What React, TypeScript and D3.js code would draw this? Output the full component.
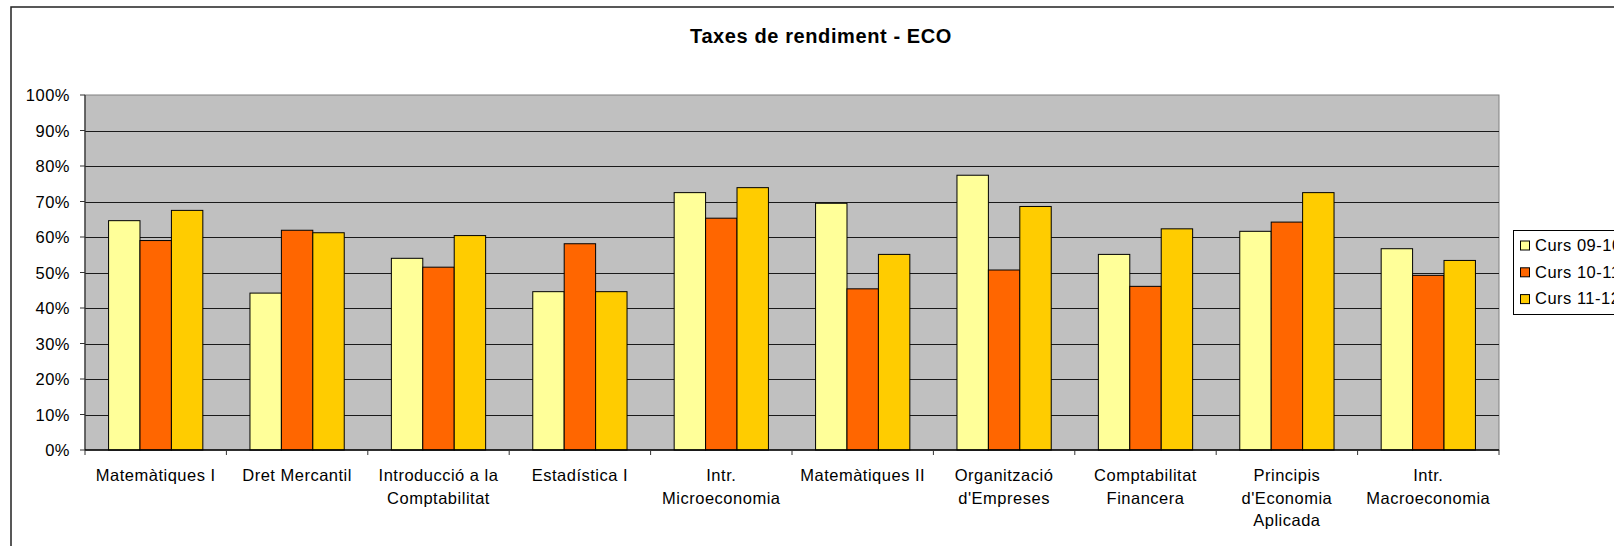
import React from "react";
import * as d3 from "d3";

const categories = [
  "Matemàtiques I",
  "Dret Mercantil",
  "Introducció a la\nComptabilitat",
  "Estadística I",
  "Intr.\nMicroeconomia",
  "Matemàtiques II",
  "Organització\nd'Empreses",
  "Comptabilitat\nFinancera",
  "Principis\nd'Economia\nAplicada",
  "Intr.\nMacroeconomia",
];

const seriesNames = ["Curs 09-10", "Curs 10-11", "Curs 11-12"];
const seriesColors = ["#FFFF99", "#FF6600", "#FFCC00"];

const curs0910 = [0.646, 0.442, 0.54, 0.446, 0.725, 0.695, 0.774, 0.551, 0.616, 0.567];
const curs1011 = [0.59, 0.619, 0.515, 0.581, 0.653, 0.454, 0.507, 0.461, 0.642, 0.492];
const curs1112 = [0.675, 0.612, 0.604, 0.446, 0.739, 0.551, 0.686, 0.623, 0.725, 0.534];
const seriesValues = [curs0910, curs1011, curs1112];

const yTicks = [0, 0.1, 0.2, 0.3, 0.4, 0.5, 0.6, 0.7, 0.8, 0.9, 1.0];
const title = "Taxes de rendiment - ECO";

const W = 1614;
const H = 546;
const left = 85;
const right = 1499;
const top = 95;
const bottom = 450;
const font = "'Liberation Sans', Arial, sans-serif";
const fs = 16.5;

export default function App() {
  const x = d3.scaleBand<string>().domain(categories).range([left, right]).paddingInner(0).paddingOuter(0);
  const xs = d3
    .scaleBand<string>()
    .domain(seriesNames)
    .range([0, x.bandwidth()])
    .paddingInner(0)
    .paddingOuter(0.75);
  const y = d3.scaleLinear().domain([0, 1]).range([bottom, top]);
  const pct = d3.format(".0%");

  return (
    <svg
      width={W}
      height={H}
      style={{ position: "absolute", left: 0, top: 0, background: "#fff" }}
      fontFamily={font}
    >
      {/* outer frame */}
      <rect x={11} y={7} width={W + 50} height={H + 50} fill="#fff" stroke="#222" strokeWidth={1.5} />

      {/* title */}
      <text x={821} y={43.3} textAnchor="middle" fontSize={20} fontWeight="bold" letterSpacing={0.6} fill="#000">
        {title}
      </text>

      {/* plot area */}
      <rect x={left} y={top} width={right - left} height={bottom - top} fill="#C0C0C0" stroke="#808080" strokeWidth={1} />

      {/* gridlines */}
      {yTicks.slice(1, -1).map((t) => (
        <line key={"g" + t} x1={left} x2={right} y1={Math.round(y(t)) + 0.5} y2={Math.round(y(t)) + 0.5} stroke="#1a1a1a" strokeWidth={1} />
      ))}

      {/* bars */}
      {seriesValues.map((vals, si) =>
        vals.map((v, ci) => {
          const bx = (x(categories[ci]) as number) + (xs(seriesNames[si]) as number);
          return (
            <rect
              key={`b${si}-${ci}`}
              x={bx}
              y={y(v)}
              width={xs.bandwidth()}
              height={bottom - y(v)}
              fill={seriesColors[si]}
              stroke="#000"
              strokeWidth={1}
            />
          );
        })
      )}

      {/* y axis */}
      <line x1={left} x2={left} y1={top} y2={bottom} stroke="#333" strokeWidth={1.2} />
      {yTicks.map((t) => (
        <g key={"y" + t}>
          <line x1={left - 5} x2={left} y1={y(t)} y2={y(t)} stroke="#333" strokeWidth={1} />
          <text x={70} y={y(t) + 6} textAnchor="end" fontSize={fs} letterSpacing={0.5} fill="#000">
            {pct(t)}
          </text>
        </g>
      ))}

      {/* x axis */}
      <line x1={left} x2={right} y1={bottom} y2={bottom} stroke="#000" strokeWidth={1.5} />
      {categories.map((c, i) => (
        <line key={"xt" + i} x1={x(c)} x2={x(c)} y1={bottom} y2={bottom + 5} stroke="#333" strokeWidth={1} />
      ))}
      <line x1={right} x2={right} y1={bottom} y2={bottom + 5} stroke="#333" strokeWidth={1} />
      {categories.map((c, i) => {
        const cx = (x(c) as number) + x.bandwidth() / 2;
        return (
          <text key={"xl" + i} textAnchor="middle" fontSize={fs} letterSpacing={0.5} fill="#000">
            {c.split("\n").map((line, li) => (
              <tspan key={li} x={cx} y={481 + li * 22.5}>
                {line}
              </tspan>
            ))}
          </text>
        );
      })}

      {/* legend */}
      <rect x={1513.5} y={230.5} width={150} height={84} fill="#fff" stroke="#000" strokeWidth={1} />
      {seriesNames.map((s, i) => (
        <g key={"lg" + i}>
          <rect x={1520.5} y={241 + i * 26.8} width={9} height={9} fill={seriesColors[i]} stroke="#000" strokeWidth={1} />
          <text x={1535} y={250.7 + i * 26.8} fontSize={fs} letterSpacing={0.5} fill="#000">
            {s}
          </text>
        </g>
      ))}
    </svg>
  );
}
